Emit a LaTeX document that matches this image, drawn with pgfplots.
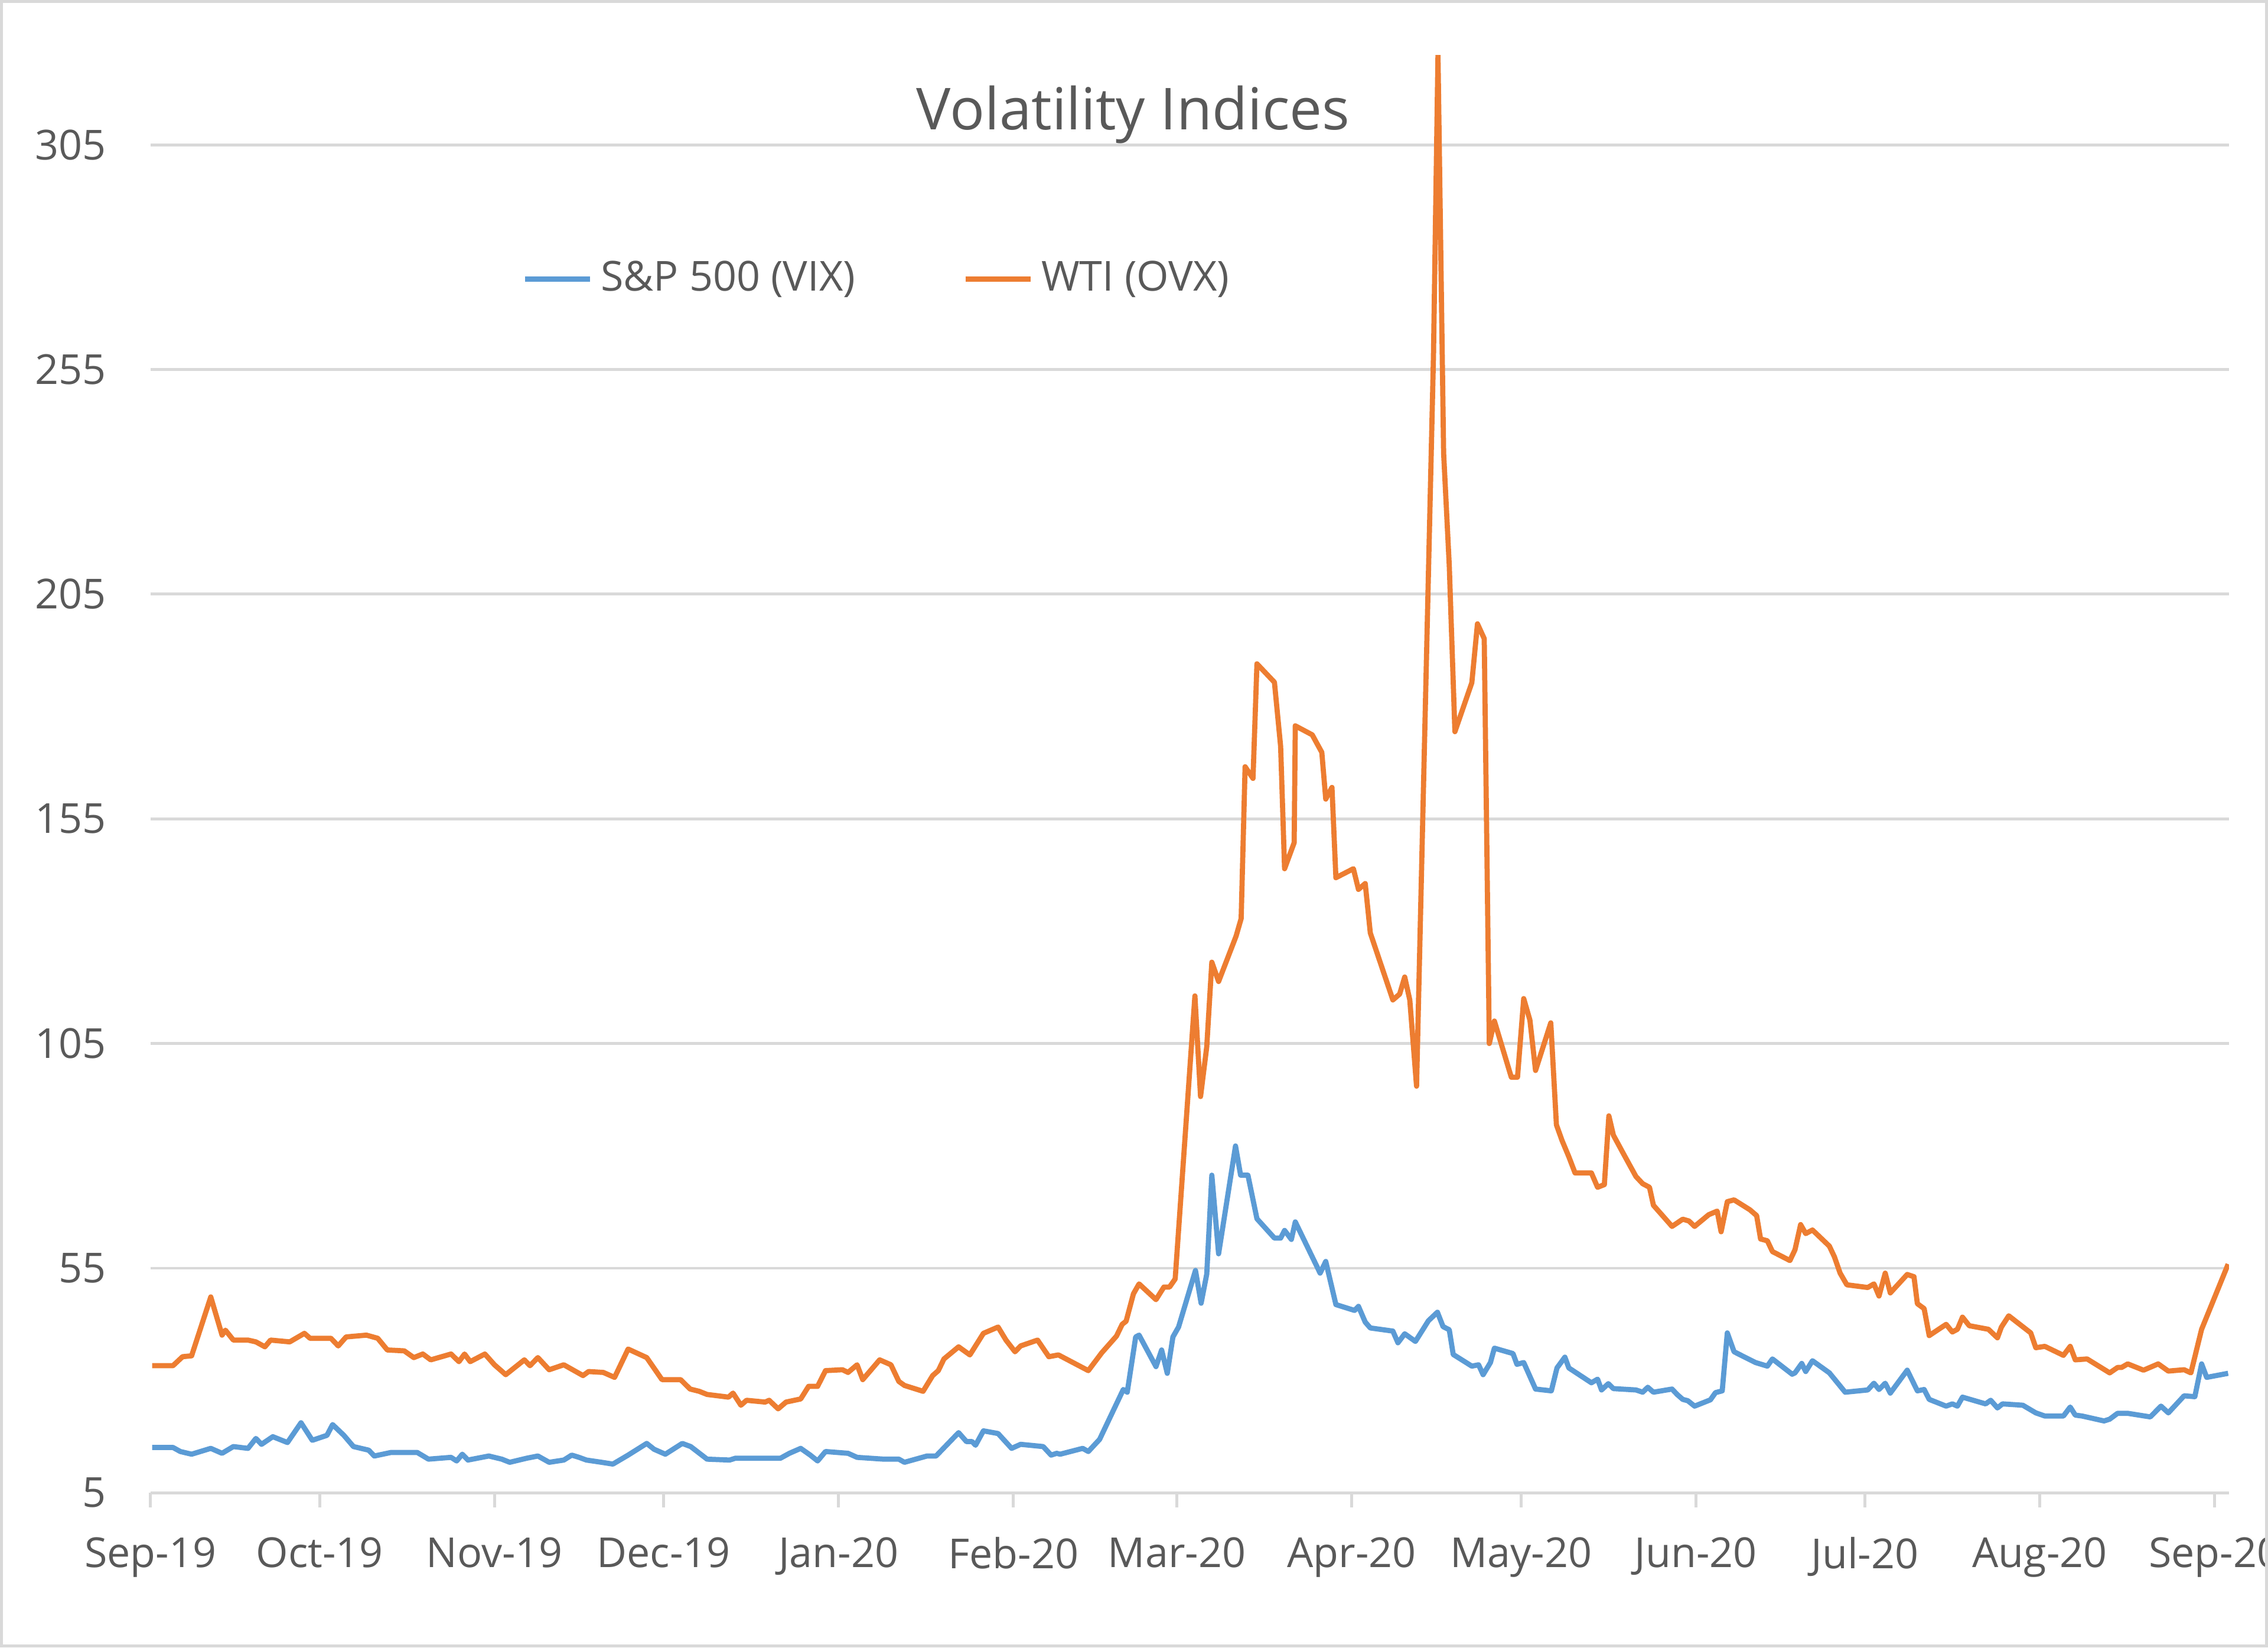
\documentclass[border=0pt]{standalone}
\usepackage{fontspec}
\setmainfont{Open Sans}
\usepackage{pgfplots}
\pgfplotsset{compat=1.18}
\definecolor{vixblue}{HTML}{5B9BD5}
\definecolor{ovxorange}{HTML}{ED7D31}
\definecolor{txtgray}{HTML}{595959}
\definecolor{gridgray}{HTML}{D9D9D9}
\pgfplotstableread{
day v
0.3 15.1
4 15.1
5.3 14.2
7.3 13.6
10.7 14.9
12.7 13.8
14.7 15.3
17.3 14.9
18.7 17.1
19.7 15.8
21.7 17.5
24.3 16.2
26.7 20.6
28.7 16.7
31.3 17.8
32.3 20.2
34.3 17.8
36 15.3
38.7 14.5
39.7 13.2
42.7 14.0
46 14.0
47.3 14.0
49.3 12.5
53.3 12.9
54.3 12.1
55.3 13.6
56.3 12.3
60 13.2
62.3 12.5
63.7 11.8
66.7 12.7
68.7 13.2
70.7 11.8
73.3 12.3
74.7 13.4
76 12.9
77.3 12.3
80 11.8
82 11.4
84.7 13.4
88 16.0
89.3 14.7
91.3 13.6
94.3 16.0
95.8 15.3
98.7 12.5
102.7 12.3
103.7 12.7
111.7 12.7
113.3 13.8
115.3 14.9
117 13.4
118.3 12.1
119.7 14.2
123.7 13.8
125.3 12.9
130 12.5
132.7 12.5
133.7 11.8
137.7 13.2
139.3 13.2
143.3 18.4
144.7 16.4
145.7 16.4
146.3 15.6
147.7 18.8
150.3 18.2
152.7 14.9
154.3 15.8
158.3 15.3
159.7 13.4
160.7 13.8
161.3 13.6
165.3 14.9
166.3 14.2
168.3 16.9
172.5 28.0
173.2 27.4
174.7 39.7
175.3 40.1
178.3 33.1
179.3 36.8
180.3 31.6
181.3 39.7
182.3 41.9
185.3 54.5
186.3 47.2
187.3 53.7
188.2 75.7
189.4 58.2
192.4 82.2
193.3 75.7
194.6 75.7
196.2 66.0
199.3 61.7
200.4 61.7
201.1 63.4
202.3 61.4
203 65.3
207.4 53.9
208.4 56.5
210.2 46.9
213.5 45.6
214.2 46.5
215.4 43.0
216.3 41.7
220.3 41.0
221.2 38.4
222.4 40.4
224.3 38.7
226.6 43.3
228.2 45.2
229.2 42.0
230.3 41.3
231 35.8
234.3 33.2
235.5 33.5
236.3 31.3
237.6 34.0
238.3 37.2
241.6 36.0
242.3 33.6
243.5 34.0
245.6 28.1
248.4 27.7
249.4 32.8
250.8 35.2
251.5 32.8
255.5 29.5
256.6 30.3
257.3 27.9
258.5 29.3
259.4 28.2
263.4 27.9
264.6 27.4
265.5 28.5
266.5 27.4
269.8 28.1
270.7 26.9
271.7 25.8
272.6 25.5
273.8 24.3
276.6 25.7
277.5 27.3
278.7 27.7
279.6 40.6
280.8 36.4
284.6 34.0
286.7 33.2
287.6 34.8
291.1 31.4
291.6 31.7
292.8 33.8
293.5 32.0
294.7 34.4
297.7 31.7
300.5 27.4
304.5 27.9
305.6 29.4
306.5 28.0
307.6 29.4
308.5 27.2
311.5 32.3
313.3 27.7
314.5 28.0
315.4 25.8
318.4 24.3
319.5 24.8
320.4 24.3
321.3 26.3
325.4 24.8
326.3 25.6
327.5 23.9
328.4 24.8
332 24.5
334.3 22.8
335.9 22.1
339.2 22.1
340.4 24.1
341.3 22.3
342.5 22.1
346.4 21.0
347.4 21.4
348.8 22.7
350.6 22.7
354.6 21.9
356.5 24.3
357.8 22.8
360.6 26.6
362.5 26.4
363.7 33.7
364.6 30.7
368.4 31.6
}\vixdata
\pgfplotstableread{
day v
0.3 33.3
4 33.3
5.7 35.3
7.3 35.5
10.7 48.6
12.7 40.1
13.3 41.2
14.7 39.0
17.3 39.0
18.7 38.6
20.3 37.5
21.3 39.0
24.7 38.6
27.3 40.5
28.3 39.4
32 39.4
33.3 37.7
34.7 39.7
38.3 40.1
40.3 39.4
42 36.8
45 36.6
46.7 35.1
48.3 35.9
49.7 34.6
53.3 35.9
54.7 34.2
55.7 35.9
56.7 34.2
59.3 35.9
61 33.5
63 31.3
66.3 34.6
67.3 33.3
68.7 35.1
70.7 32.4
73.3 33.5
76.7 31.1
77.7 32.0
80.3 31.8
82.3 30.7
84.7 37.0
88 35.1
90.7 30.2
94 30.2
95.7 28.1
97.3 27.6
98.7 26.9
102.5 26.3
103.3 27.2
104.7 24.5
105.7 25.6
109 25.2
109.7 25.6
111.3 23.7
112.7 25.2
115.3 25.9
116.7 28.7
118.3 28.7
119.7 32.2
122.7 32.4
123.7 31.8
125.3 33.5
126.3 30.2
129.3 34.6
131.3 33.5
132.7 29.8
133.7 28.9
137 27.6
138.7 31.1
139.7 32.2
140.7 34.8
143.3 37.5
145.3 35.7
147.7 40.5
150.3 41.9
151.7 39.0
153.3 36.4
154.3 37.7
157.3 39.0
159.3 35.3
161 35.7
166.3 32.2
168.7 36.2
171.3 39.9
172.3 42.5
173 43.2
174.3 49.3
175.3 51.5
178.3 48.0
179.7 50.8
180.7 50.8
181.7 52.6
185.2 115.6
186.2 93.2
187.3 104.3
188.2 123.1
189.4 118.8
192.5 128.9
193.4 132.8
194.1 166.6
195.5 164.0
196.2 189.5
199.3 185.4
200.4 171.1
201.1 143.9
202.8 149.7
203 175.7
206 173.7
207.7 169.8
208.4 159.4
209.5 162.0
210.2 141.9
213.3 143.9
214.2 139.3
215.4 140.6
216.3 129.6
220.3 114.7
221.5 116.0
222.4 119.8
223.3 114.7
224.5 95.5
227.5 258
228.3 325
229.3 236.4
230.3 211.4
231.3 174.4
234.3 185.3
235.3 198.4
236.5 195.1
237.4 105.0
238.3 110.0
241.3 97.5
242.4 97.5
243.5 115.0
244.6 110.2
245.6 99.0
248.3 109.6
249.3 86.9
250.3 83.4
251.5 79.8
252.6 76.2
255.5 76.2
256.6 73.0
257.8 73.6
258.6 88.9
259.4 84.6
261.3 80.2
263.4 75.4
264.6 73.8
265.8 73.0
266.5 69.0
269.8 64.3
271.7 65.9
272.8 65.5
273.8 64.3
276.3 66.9
277.8 67.7
278.5 63.1
279.6 69.8
280.8 70.2
283.6 68.0
284.8 66.7
285.5 61.5
286.7 61.1
287.6 58.7
290.7 56.7
291.6 59.1
292.6 64.7
293.5 62.7
294.7 63.5
297.7 59.9
298.6 57.5
299.6 53.9
300.8 51.3
304.5 50.7
305.6 51.5
306.5 48.8
307.6 53.9
308.5 49.5
311.5 53.6
312.7 53.1
313.3 47.1
314.5 46.0
315.4 40.0
318.4 42.5
319.5 40.8
320.4 41.4
321.3 44.1
322.5 42.2
325.9 41.4
327.5 39.5
328.2 41.9
329.5 44.4
333.4 40.6
334.3 37.3
335.9 37.6
339.2 35.6
340.4 37.6
341.3 34.6
343.4 34.8
347.4 31.7
348.8 32.9
349.5 32.9
350.6 33.7
353.4 32.3
356 33.7
357.8 32.1
360.6 32.4
361.8 31.7
363.7 41.4
368.4 55.9
}\ovxdata
\begin{document}
\begin{tikzpicture}
\useasboundingbox (-36.4pt,-37.45pt) rectangle (512.4pt,361.2pt);
\clip (-36.4pt,-37.45pt) rectangle (512.4pt,361.2pt);
\fill[white] (-36.4pt,-37.45pt) rectangle (512.4pt,361.2pt);
\begin{axis}[
  at={(0,0)}, anchor=south west, scale only axis,
  width=502.95pt, height=347.9pt,
  xmin=0, xmax=368.55, ymin=5, ymax=325,
  axis x line=bottom, axis y line=left,
  x axis line style={draw=gridgray, line width=0.7pt, -},
  y axis line style={draw=none},
  xtick={0,30,61,91,122,153,182,213,243,274,304,335,366},
  xticklabels={Sep-19,Oct-19,Nov-19,Dec-19,Jan-20,Feb-20,Mar-20,Apr-20,May-20,Jun-20,Jul-20,Aug-20,Sep-20},
  ytick={5,55,105,155,205,255,305},
  ymajorgrids,
  grid style={draw=gridgray, line width=0.7pt},
  tick align=outside,
  major tick length=3.5pt,
  xtick style={draw=gridgray, line width=0.7pt},
  ytick style={draw=none},
  ticklabel style={font=\fontsize{10}{12}\selectfont, text=txtgray},
  /pgf/number format/assume math mode=true,
  yticklabel style={xshift=-3.7pt},
  xticklabel style={yshift=-3.7pt},
  legend columns=2,
  legend style={at={(0.351,0.844)}, anchor=center, draw=none, fill=none,
    font=\fontsize{10}{12}\selectfont, text=txtgray,
    /tikz/every even column/.append style={column sep=24pt}},
  legend image code/.code={\draw[#1, line width=1.25pt] (0pt,0pt) -- (15.75pt,0pt);},
  clip=true,
]
\addplot[vixblue, line width=1.25pt, line join=round] table[x=day, y=v] {\vixdata};
\addlegendentry{S\&P 500 (VIX)}
\addplot[ovxorange, line width=1.25pt, line join=round] table[x=day, y=v] {\ovxdata};
\addlegendentry{WTI (OVX)}
\node[font=\fontsize{14}{17}\selectfont, text=txtgray, anchor=base] at (rel axis cs:0.4728,0.948) {Volatility Indices};
\end{axis}
\draw[gridgray, line width=0.7pt] (-36.05pt,-37.1pt) rectangle (512.05pt,360.85pt);
\end{tikzpicture}
\end{document}
